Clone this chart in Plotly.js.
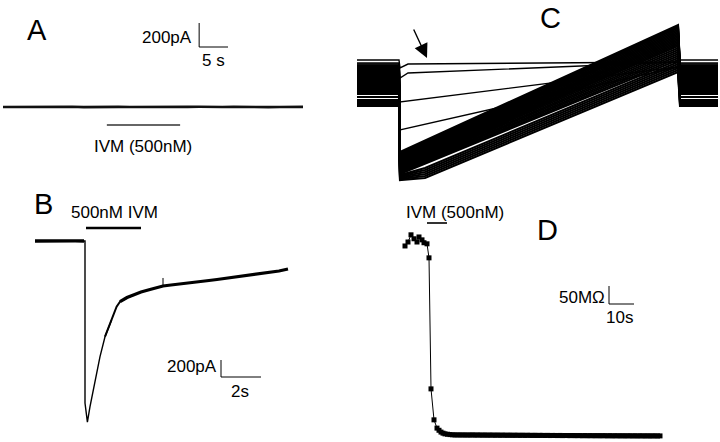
<!DOCTYPE html>
<html><head><meta charset="utf-8">
<script src="https://cdn.plot.ly/plotly-3.0.1.min.js"></script>
<style>html,body{margin:0;padding:0;background:#fff}#chart{width:720px;height:442px}</style>
</head><body><div id="chart"></div>
<script>
// ---------- Panel A : holding current (pA) vs time (s), no response to IVM ----------
const aTime    = [0,2,4,6,8,10,12,14,16,18,20,22,24,26,28,30,32,34,36,38,40,42,44,46,48,50,52];
const aCurrent = [0,1,-1,2,-1,0,2,-1,1,-2,1,0,-1,2,0,-2,1,2,-1,0,1,-1,2,-1,0,-1,1];
const aIvmWindow = [18, 30.7];          // IVM application (s)

// ---------- Panel B : IVM-activated current (pA) vs time (s) ----------
const bBaseTime    = [0,0.4,0.8,1.2,1.6,2.0,2.45];
const bBaseCurrent = [0,2,-2,1,-1,1,0];
const bFastTime    = [2.45,2.5,2.5,2.62,2.75,3.0,3.25,3.5,3.83];
const bFastCurrent = [0,0,-1906,-2130,-1949,-1635,-1361,-1126,-929];
const bMidTime     = [3.5,3.83,4.08,4.25,4.6,4.92];
const bMidCurrent  = [-1126,-929,-773,-714,-665,-635];
const bSlowTime    = [4.25,4.6,4.92,5.3,5.75,6.1,6.4,6.8,7.3,7.8,8.25,8.7,9.1,9.5,9.9,10.3,10.75,11.2,11.6,12.2,12.65];
const bSlowCurrent = [-714,-665,-635,-600,-570,-547,-529,-518,-506,-494,-482,-465,-453,-441,-424,-418,-406,-388,-376,-353,-329];
const bSpikeTime    = [6.4,6.4];
const bSpikeCurrent = [-529,-435];
const bIvmWindow = [2.55, 5.3];

// ---------- Panel C : ramp currents (pA) vs time (ms), one sweep per entry ----------
const cTimes = [0, 42, 43, 321, 323, 361];   // hold, step, ramp start, ramp end, step back, end
const cHold  = [30,0,-10,-20,
  -30,-40,-50,-60,-70,-80,-90,-100,-110,-120,-130,-140,-150,-160,-170,-180,-190,-200,-210,
  -230,-250,-270,-290,-310,-340,-370,-390,-410,-430];
const cStart = [-50,-150,-390,-670,
  -890,-900,-910,-920,-930,-940,-950,-960,-970,-980,-990,-1000,-1010,-1020,-1030,-1040,-1050,-1060,-1070,
  -1080,-1090,-1100,-1110,-1120,-1130,-1140,-1150,-1160,-1170];
const cEnd   = [10,10,-40,-40,
  380,370,360,350,335,320,305,290,275,260,245,230,215,200,185,170,150,130,110,
  90,70,50,30,10,-10,-30,-50,-70,-90];
const cKneeTime = [51,51,null,null,
  null,null,null,null,null,null,null,null,null,null,null,null,null,null,null,null,null,null,null,
  null,null,null,null,68,68,68,68,68,68];
const cKneeCurrent = [-10,-100,null,null,
  null,null,null,null,null,null,null,null,null,null,null,null,null,null,null,null,null,null,null,
  null,null,null,null,-1050,-1070,-1090,-1110,-1130,-1150];

// ---------- Panel D : input resistance (MOhm) vs time (s) ----------
const dTime = [0,1.2,2.4,3.6,4.8,5.6,6.8,7.6,8.8,9.6,10.4,11.6,12.8,13.6,14.4,15.2,16,17,18,19,
  20,21,22,23,24,25,26,27,28,29,30,31,32,33,34,35,36,37,38,39,40,41,42,43,44,45,46,47,48,49,50,
  51,52,53,54,55,56,57,58,59,60,61,62,63,64,65,66,67,68,69,70,71,72,73,74,75,76,77,78,79,80,
  81,82,83,84,85,86,87,88,89,90,91,92,93,94,95,96,97,98,99,100,101,102];
const dResistance = [539,550,570,559,550,564,556,548,545,506,142,56,33,27,22,19,17,16,15,14.5,
  14,14.2,13.9,14.1,13.8,14,13.7,14.2,13.6,13.9,13.8,13.5,13.9,13.4,13.7,13.6,13.3,13.7,13.2,13.5,13.4,13.1,13.5,13,13.3,13.2,12.9,13.3,12.8,13.1,13,
  12.7,13.1,12.6,12.9,12.8,12.5,12.9,12.4,12.7,12.6,12.3,12.7,12.2,12.5,12.4,12.1,12.5,12,12.3,12.2,11.9,12.3,11.8,12.1,12,11.8,12.1,11.7,12,11.9,
  11.6,12,11.5,11.8,11.7,11.5,11.8,11.4,11.7,11.6,11.4,11.7,11.3,11.6,11.5,11.3,11.6,11.2,11.5,11.4,11.3,11.4];
const dIvmWindow = [8.8, 16.8];

// ---------- scale bars ----------
const aScale = {amp:200, time:5};
const bScale = {amp:200, time:2};
const dScale = {res:50, time:10};

// ===================================================================
const W = 720, H = 442;
const px = v => v / W, py = v => 1 - v / H;
const FONT = 'Liberation Sans, Arial, Helvetica, sans-serif';
const K = '#000';

const traces = [];
// A
traces.push({x:aTime, y:aCurrent, xaxis:'x', yaxis:'y', mode:'lines', line:{color:'#111', width:2.6}});
// B
traces.push({x:bBaseTime, y:bBaseCurrent, xaxis:'x2', yaxis:'y2', mode:'lines', line:{color:K, width:3.4}});
traces.push({x:bFastTime, y:bFastCurrent, xaxis:'x2', yaxis:'y2', mode:'lines', line:{color:K, width:1.4}});
traces.push({x:bMidTime, y:bMidCurrent, xaxis:'x2', yaxis:'y2', mode:'lines', line:{color:K, width:2.0}});
traces.push({x:bSlowTime, y:bSlowCurrent, xaxis:'x2', yaxis:'y2', mode:'lines', line:{color:K, width:3.2}});
traces.push({x:bSpikeTime, y:bSpikeCurrent, xaxis:'x2', yaxis:'y2', mode:'lines', line:{color:K, width:1}});
// C
for (let i = 0; i < cHold.length; i++) {
  const xs = [cTimes[0], cTimes[1], cTimes[2]];
  const ys = [cHold[i], cHold[i], cStart[i]];
  if (cKneeTime[i] !== null) { xs.push(cKneeTime[i]); ys.push(cKneeCurrent[i]); }
  xs.push(cTimes[3], cTimes[4], cTimes[5]);
  ys.push(cEnd[i], cHold[i], cHold[i]);
  traces.push({x:xs, y:ys, xaxis:'x3', yaxis:'y3', mode:'lines', line:{color:K, width: i < 4 ? 1.4 : 2.1}});
}
// D
traces.push({x:dTime, y:dResistance, xaxis:'x4', yaxis:'y4', mode:'lines+markers',
  line:{color:K, width:1}, marker:{symbol:'square', size:5, color:K}});

const ax = (d0, d1, r0, r1, anchor) => ({domain:[d0, d1], range:[r0, r1], visible:false, fixedrange:true, anchor:anchor});

const layout = {
  width:W, height:H, margin:{l:0, r:0, t:0, b:0},
  paper_bgcolor:'#fff', plot_bgcolor:'rgba(0,0,0,0)', showlegend:false,
  xaxis:  ax(px(3),   px(303), 0, 52, 'y'),
  yaxis:  ax(py(160), py(15), -441.7, 766.7, 'x'),
  xaxis2: ax(px(35),  px(290), 0, 12.75, 'y2'),
  yaxis2: ax(py(430), py(195), -2223.5, 541.2, 'x2'),
  xaxis3: ax(px(357), px(718), 0, 361, 'y3'),
  yaxis3: ax(py(190), py(15), -1270, 480, 'x3'),
  xaxis4: ax(px(400), px(670), -2, 106, 'y4'),
  yaxis4: ax(py(440), py(200), 0, 666.7, 'x4'),
  shapes: [],
  annotations: []
};
const seg = (xr, yr, x0, y0, x1, y1, w, c) => layout.shapes.push({type:'line', xref:xr, yref:yr, x0, y0, x1, y1, line:{color:c || K, width:w || 1}});
// A scale bar + IVM bar
seg('x','y', 34, 500, 34, 500 + aScale.amp);
seg('x','y', 34, 500, 34 + aScale.time, 500);
seg('x','y', aIvmWindow[0], -150, aIvmWindow[1], -150, 1.5, '#333');
// B
seg('x2','y2', 9.3, -1600, 9.3, -1600 + bScale.amp);
seg('x2','y2', 9.3, -1600, 9.3 + bScale.time, -1600);
seg('x2','y2', bIvmWindow[0], 153, bIvmWindow[1], 153, 2.5);
// D
seg('x4','y4', 81.6, 377.8, 81.6, 377.8 + dScale.res);
seg('x4','y4', 81.6, 377.8, 81.6 + dScale.time, 377.8);
seg('x4','y4', dIvmWindow[0], 602.8, dIvmWindow[1], 602.8, 1.6);

const txt = (t, x, y, size, xa) => layout.annotations.push({text:t, xref:'paper', yref:'paper', x:px(x), y:py(y),
  xanchor:xa || 'center', yanchor:'middle', showarrow:false, font:{family:FONT, size:size, color:K}});
// panel letters
txt('A', 36.5, 30, 29); txt('B', 43, 204, 29); txt('C', 550, 18, 29); txt('D', 547, 230, 29);
// A texts
txt(aScale.amp + 'pA', 194, 37, 17, 'right');
txt(aScale.time + ' s', 213, 61, 17);
txt('IVM (500nM)', 142.5, 147, 17);
// B texts
txt('500nM IVM', 115, 212, 17);
txt(bScale.amp + 'pA', 219, 366, 17, 'right');
txt(bScale.time + 's', 239.5, 391, 17);
// D texts
txt('IVM (500nM)', 455, 212, 17);
txt(dScale.res + 'MΩ', 607, 297, 17, 'right');
txt(dScale.time + 's', 619.5, 317, 17);
// C arrow
layout.annotations.push({xref:'x3', yref:'y3', x:70, y:50, text:'', showarrow:true, ax:-14, ay:-30,
  arrowhead:2, arrowsize:2, arrowwidth:1.4, arrowcolor:K});

Plotly.newPlot('chart', traces, layout, {staticPlot:true, displayModeBar:false});
</script></body></html>
